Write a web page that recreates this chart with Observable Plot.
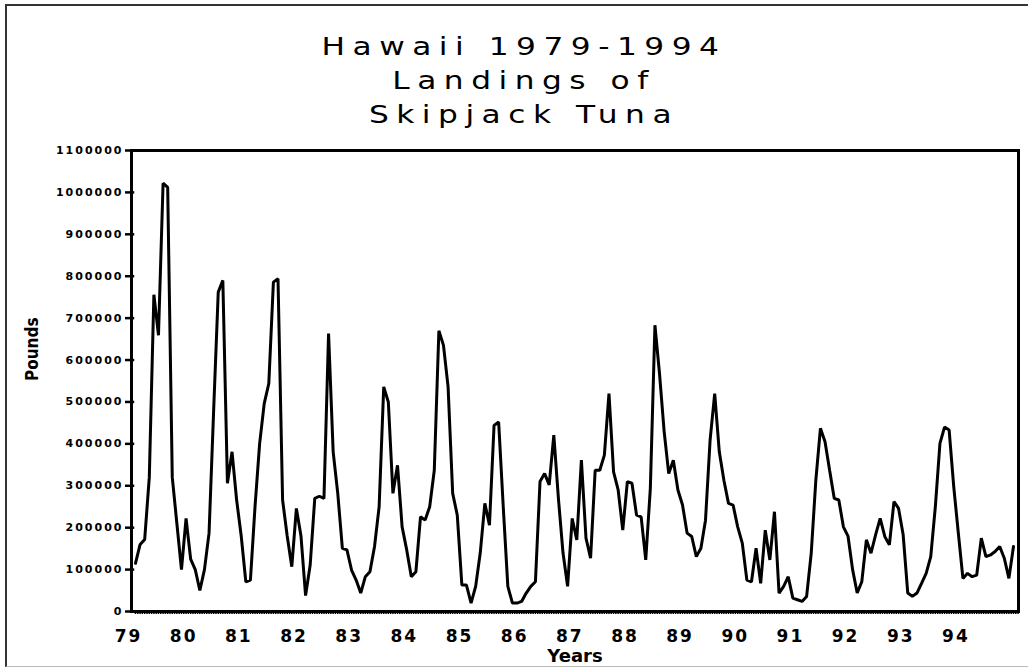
<!DOCTYPE html>
<html>
<head>
<meta charset="utf-8">
<script src="https://cdn.jsdelivr.net/npm/d3@7"></script>
<script src="https://cdn.jsdelivr.net/npm/@observablehq/plot@0.6"></script>
<style>
html, body { margin: 0; padding: 0; background: #fff; overflow: hidden; }
#wrap { position: relative; width: 1028px; height: 671px; overflow: hidden; }
#border { position: absolute; left: 5px; top: 4px; width: 1040px; height: 660px;
  border-left: 2px solid #333; border-top: 2px solid #333; border-bottom: 1px solid #bbb; }
#title { position: absolute; top: 30px; left: -10px; width: 1068px; text-align: center;
  font-family: "DejaVu Sans", sans-serif; font-size: 25px; line-height: 34px; letter-spacing: 6px; color: #000;
  transform: scaleX(1.25); transform-origin: 534px 0; }
#chart { position: absolute; left: 0; top: 0; }
g[aria-label="y-axis tick label"] text { letter-spacing: 2px; }
g[aria-label="x-axis tick label"] text { letter-spacing: 2px; }
</style>
</head>
<body>
<div id="wrap">
  <div id="border"></div>
  <div id="chart"></div>
  <div id="title">Hawaii 1979-1994<br>Landings of<br>Skipjack Tuna</div>
</div>
<script>
// Monthly landings (thousands of pounds), Jan..Dec
const years = [1979,1980,1981,1982,1983,1984,1985,1986,1987,1988,1989,1990,1991,1992,1993,1994];
const yearLabels = ["79","80","81","82","83","84","85","86","87","88","89","90","91","92","93","94"];
const y1979 = [115, 160, 172, 320, 756, 659, 1022, 1012, 320, 210, 100, 222];
const y1980 = [125, 100, 50, 100, 187, 480, 762, 790, 306, 381, 266, 180];
const y1981 = [71, 75, 250, 400, 496, 544, 786, 794, 266, 180, 107, 246];
const y1982 = [180, 38, 111, 270, 275, 270, 663, 381, 282, 151, 147, 99];
const y1983 = [75, 44, 83, 95, 155, 250, 536, 500, 282, 349, 202, 147];
const y1984 = [83, 95, 226, 218, 250, 337, 670, 635, 536, 282, 230, 63];
const y1985 = [63, 20, 60, 140, 258, 206, 444, 452, 250, 60, 20, 20];
const y1986 = [24, 44, 60, 71, 310, 329, 302, 421, 270, 140, 60, 222];
const y1987 = [171, 361, 175, 127, 337, 337, 373, 520, 333, 290, 194, 310];
const y1988 = [306, 230, 226, 123, 294, 683, 567, 430, 329, 361, 290, 254];
const y1989 = [187, 179, 131, 151, 218, 409, 520, 381, 313, 258, 254, 202];
const y1990 = [163, 75, 71, 151, 67, 194, 123, 238, 44, 60, 83, 32];
const y1991 = [28, 24, 36, 139, 313, 437, 405, 337, 270, 266, 202, 180];
const y1992 = [100, 44, 71, 171, 139, 183, 222, 179, 159, 262, 246, 183];
const y1993 = [44, 36, 44, 67, 91, 131, 250, 401, 440, 433, 298, 187];
const y1994 = [79, 91, 83, 87, 175, 131, 135, 143, 155, 127, 79, 155];
const series = [y1979,y1980,y1981,y1982,y1983,y1984,y1985,y1986,y1987,y1988,y1989,y1990,y1991,y1992,y1993,y1994];
const yTicks = [0,100000,200000,300000,400000,500000,600000,700000,800000,900000,1000000,1100000];

const data = [];
series.forEach((vals, i) => vals.forEach((v, j) => data.push({m: i * 12 + j, v: v * 1000})));
const nMonths = years.length * 12;
const xDomain = [-0.87, nMonths + 0.09];
const yearTicks = years.map((_, i) => i * 12);
const halfMonths = d3.range(0, nMonths * 2 + 1).map(k => k / 2);

const chart = Plot.plot({
  width: 1028, height: 671,
  marginLeft: 131, marginRight: 10, marginTop: 150, marginBottom: 60,
  style: {fontFamily: "DejaVu Sans", background: "transparent", color: "#000"},
  x: {domain: xDomain, axis: null},
  y: {domain: [0, 1100000], axis: null},
  marks: [
    Plot.line(data, {x: "m", y: "v", stroke: "#000", strokeWidth: 3, strokeLinejoin: "miter"}),
    Plot.axisY({ticks: yTicks, tickFormat: d3.format("d"), tickSize: 6, tickPadding: 2,
      strokeWidth: 2.5, fontSize: 11, fontWeight: "bold", fontFamily: "DejaVu Sans", label: null}),
    Plot.ruleY(yTicks, {x1: xDomain[0], x2: xDomain[0] + 0.7, stroke: "#000", strokeWidth: 2.5}),
    Plot.axisX({ticks: halfMonths, tickSize: 3, tickFormat: () => "", strokeWidth: 1.5, label: null}),
    Plot.axisX({ticks: yearTicks, tickSize: 0, tickPadding: 18, tickFormat: d => yearLabels[d / 12],
      fontSize: 17, fontWeight: "bold", fontFamily: "DejaVu Sans", label: null, dx: -7}),
    Plot.frame({stroke: "#000", strokeWidth: 3}),
    Plot.text(["Pounds"], {text: d => d, frameAnchor: "left", dx: -99, rotate: -90,
      fontSize: 17, fontWeight: "bold", fontFamily: "DejaVu Sans Condensed, DejaVu Sans"}),
    Plot.text(["Years"], {text: d => d, frameAnchor: "bottom", lineAnchor: "top", dy: 38,
      fontSize: 18, fontWeight: "bold", fontFamily: "DejaVu Sans"})
  ]
});
document.getElementById("chart").appendChild(chart);
</script>
</body>
</html>
